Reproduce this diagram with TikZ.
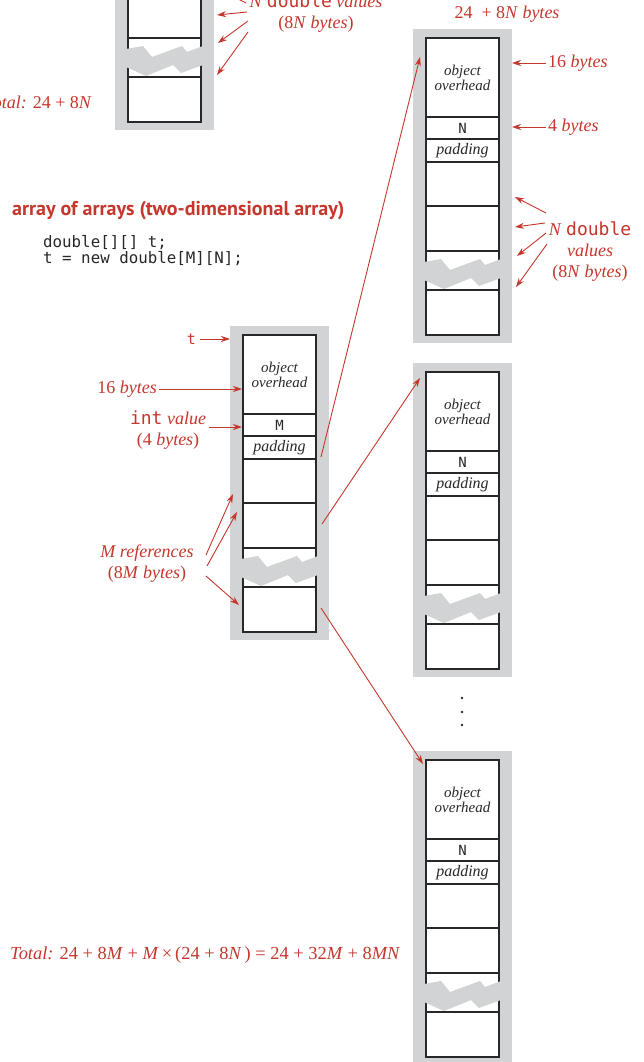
\documentclass[tikz,border=0pt]{standalone}
\usepackage{fontspec}
\setmainfont{Liberation Serif}
\setsansfont{PT Sans}
\setmonofont{DejaVu Sans Mono}
\usetikzlibrary{arrows.meta}
\definecolor{redc}{RGB}{197,55,45}
\definecolor{framec}{RGB}{209,211,212}
\definecolor{inkc}{RGB}{40,40,40}
\tikzset{
  lbl/.style={text=redc, inner sep=0pt, font=\fontsize{18}{21}\selectfont},
  arr/.style={draw=redc, line width=0.9pt, -{Stealth[length=9pt,width=6pt]}},
  cell/.style={draw=inkc, line width=1.2pt},
  intxt/.style={text=inkc, inner sep=0pt, font=\fontsize{15}{15}\selectfont\itshape, align=center},
  incode/.style={text=inkc, inner sep=0pt, font=\fontsize{14}{14}\selectfont\ttfamily},
  codetxt/.style={text=inkc, inner sep=0pt, align=left, font=\fontsize{15.8}{16}\selectfont\ttfamily},
}
\newcommand\memarr[4]{%
  \begin{scope}[shift={(#2,#3)}]
    \fill[framec] (-13,-9) rectangle (86,305);
    \fill[white] (0,0) rectangle (73,297);
    \draw[cell] (0,0) rectangle (73,297);
    \foreach \yy in {79,101,124,168,213,252} \draw[cell] (0,\yy) -- (73,\yy);
    \fill[framec] (-2,224) -- (15,221) -- (24,232) -- (54,221) -- (59,227) -- (75,221)
      -- (75,240) -- (53,248) -- (45,240) -- (18,251) -- (-2,242) -- cycle;
    \node[intxt] (#1-oh) at (36.5,40) {object\\overhead};
    \node[incode] (#1-len) at (36.5,90) {#4};
    \node[intxt, font=\fontsize{16}{16}\selectfont\itshape] (#1-pad) at (36.5,113) {padding};
  \end{scope}}
\begin{document}
\begin{tikzpicture}[x=1pt,y=-1pt]
\clip (0,0) rectangle (643,1062);
\fill[white] (0,0) rectangle (643,1062);

% arrays
\memarr{a0}{128}{-175}{N}
\memarr{m}{243}{335}{M}
\memarr{r1}{426}{38}{N}
\memarr{r2}{426}{372}{N}
\memarr{r3}{426}{760}{N}

% ---------- top-left (one-dimensional) labels
\node[lbl, align=center] (a0vals) at (316,13) {\textit{N} \texttt{double} \textit{values}\\(8\textit{N} \textit{bytes})};
\coordinate (a0s0) at (246,3);   \coordinate (a0e0) at (217,-12);
\coordinate (a0s1) at (247,12);  \coordinate (a0e1) at (217,15);
\coordinate (a0s2) at (248,21);  \coordinate (a0e2) at (218,43);
\coordinate (a0s3) at (248,32);  \coordinate (a0e3) at (217,75);
\foreach \i in {0,1,2,3} \draw[arr] (a0s\i) -- (a0e\i);
\node[lbl, anchor=east] (a0tot) at (92,102) {\textit{Total:} 24 + 8\textit{N}};

% ---------- title and code
\node[text=redc, inner sep=0pt, anchor=west, font=\fontsize{20}{22}\selectfont\sffamily\bfseries] (title) at (12,211) {array of arrays (two-dimensional array)};
\node[codetxt, anchor=west] (code) at (43,251) {double[][] t;\\t = new double[M][N];};

% ---------- middle array labels
\node[lbl, anchor=east, font=\fontsize{15}{15}\selectfont\ttfamily] (tlbl) at (196,339) {t};
\coordinate (tend) at (230,339);
\draw[arr] (tlbl.east) ++(4,0) -- (tend);
\node[lbl, anchor=east] (m16) at (157,389) {16 \textit{bytes}};
\coordinate (m16e) at (242,389);
\draw[arr] (m16.east) ++(2,0) -- (m16e);
\node[lbl, align=center] (mint) at (168,430) {\texttt{int} \textit{value}\\(4 \textit{bytes})};
\coordinate (mints) at (209,427); \coordinate (minte) at (242,427);
\draw[arr] (mints) -- (minte);
\node[lbl, align=center] (mref) at (147,564) {\textit{M references}\\(8\textit{M} \textit{bytes})};
\coordinate (mr1s) at (206,555); \coordinate (mr1e) at (233,494);
\coordinate (mr2s) at (207,566); \coordinate (mr2e) at (237,512);
\coordinate (mr3s) at (206,576); \coordinate (mr3e) at (239,605);
\foreach \i in {1,2,3} \draw[arr] (mr\i s) -- (mr\i e);

% ---------- pointers from references
\coordinate (p1s) at (321,457); \coordinate (p1e) at (420,57);
\coordinate (p2s) at (322,524); \coordinate (p2e) at (420,378);
\coordinate (p3s) at (321,608); \coordinate (p3e) at (423,764);
\foreach \i in {1,2,3} \draw[arr] (p\i s) -- (p\i e);

% ---------- top-right labels
\node[lbl] (r1tot) at (507,14) {24\ \ + 8\textit{N} \textit{bytes}};
\node[lbl, anchor=west] (r116) at (548,63) {16 \textit{bytes}};
\node[lbl, anchor=west] (r14) at (548,127) {4 \textit{bytes}};
\coordinate (r116e) at (512,63); \coordinate (r14e) at (512,127);
\draw[arr] (r116.west) ++(-2,0) -- (r116e);
\draw[arr] (r14.west) ++(-2,0) -- (r14e);
\node[lbl, align=center] (r1vals) at (590,252) {\textit{N} \texttt{double}\\\textit{values}\\(8\textit{N} \textit{bytes})};
\coordinate (rv1s) at (546,213); \coordinate (rv1e) at (515,197);
\coordinate (rv2s) at (545,223); \coordinate (rv2e) at (515,227);
\coordinate (rv3s) at (546,233); \coordinate (rv3e) at (517,256);
\coordinate (rv4s) at (547,244); \coordinate (rv4e) at (516,287);
\foreach \i in {1,2,3,4} \draw[arr] (rv\i s) -- (rv\i e);

% ---------- dots
\foreach \yy/\nm in {698/d1,712/d2,725/d3} \fill[inkc] (462,\yy) circle (1.3) coordinate (\nm);

% ---------- total
\node[lbl, anchor=west, font=\fontsize{18.4}{21}\selectfont] (total) at (10,955) {\textit{Total:} 24 + 8\textit{M} + \textit{M}\,×\,(24 + 8\textit{N}\,) = 24 + 32\textit{M} + 8\textit{MN}};
\end{tikzpicture}
\end{document}
